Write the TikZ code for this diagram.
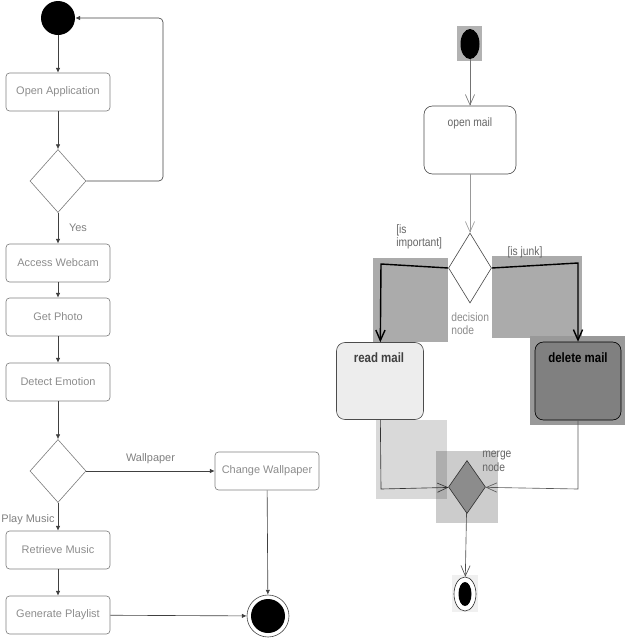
\documentclass[tikz,border=0pt]{standalone}
\usepackage{fontspec}
\setmainfont{Liberation Sans}
\newfontfamily\narrowsans[FakeStretch=0.85]{Liberation Sans}
\usetikzlibrary{arrows.meta,shapes.geometric}
\newcommand{\pxu}{0.025cm}

\begin{document}
\begin{tikzpicture}[x=\pxu,y=-\pxu,line width=.45pt,
  act/.style={draw=black!50,rounded corners=2.5pt,inner sep=0pt,text=black!45,
    font=\fontsize{7.8}{9}\selectfont,minimum width=104*\pxu,minimum height=38*\pxu},
  choix/.style={draw=black!50,diamond,inner sep=0pt,minimum width=56*\pxu,minimum height=63*\pxu},
  fleche/.style={draw=black!75,-{Latex[length=1.2mm,width=1.1mm]}},
  garde/.style={text=black!50,font=\fontsize{7.8}{9}\selectfont,inner sep=0pt},
  etat/.style={draw=black!70,rounded corners=6pt,inner sep=0pt},
  nom/.style={font=\narrowsans\fontsize{8.6}{9.6}\selectfont,text=black!60,inner sep=0pt},
  titre/.style={font=\narrowsans\bfseries\fontsize{9.6}{11}\selectfont,inner sep=0pt},
  pointe/.style={-{Straight Barb[length=2.6mm,width=2.3mm]}},
  branche/.style={pointe,line width=1pt},
]
\useasboundingbox (0,0) rectangle (640,640);

% Diagramme de gauche : l'application.
\node[circle,fill=black,minimum size=34*\pxu,inner sep=0pt] (debut) at (58,18) {};
\node[act] (ouvrir) at (58,92) {Open Application};
\node[choix] (test) at (58,181) {};
\node[act] (webcam) at (58,263) {Access Webcam};
\node[act] (photo) at (58,317) {Get Photo};
\node[act] (emotion) at (58,382) {Detect Emotion};
\node[choix] (genre) at (58,471) {};
\node[act] (fond) at (267,471) {Change Wallpaper};
\node[act] (musique) at (58,550) {Retrieve Music};
\node[act] (liste) at (58,615) {Generate Playlist};
\node[circle,draw=black!70,minimum size=42*\pxu,inner sep=0pt] (fin) at (268,616) {};
\fill (fin.center) circle[radius=17];
\coordinate (boucle) at (163,18);

\draw[fleche] (debut) -- (ouvrir);
\draw[fleche] (ouvrir) -- (test);
\draw[fleche,rounded corners=3pt] (test.east) -| (boucle) -- (debut.east);
\draw[fleche] (test) -- (webcam);
\node[garde] (oui) at (78,228) {Yes};
\draw[fleche] (webcam) -- (photo);
\draw[fleche] (photo) -- (emotion);
\draw[fleche] (emotion) -- (genre);
\draw[fleche] (genre) -- (fond) node[garde,midway,above=7*\pxu] (papier) {Wallpaper};
\draw[fleche] (genre) -- (musique);
\node[garde] (jouer) at (28,520) {Play Music};
\draw[fleche] (musique) -- (liste);
\draw[fleche] (liste) -- (fin);
\draw[fleche] (fond) -- (fin);

% Diagramme de droite : le courrier. D'abord les zones grises.
\fill[black!30] (457,26) rectangle (482,61);
\fill[black!33] (373,258) rectangle (448,342);
\fill[black!33] (492,256) rectangle (582,338);
\fill[black!40] (530,336) rectangle (625,425);
\fill[black,fill opacity=.15] (376,420) rectangle (447,499);
\fill[black,fill opacity=.2] (436,451) rectangle (498,523);
\fill[black!6] (452,575) rectangle (478,612);

\node[ellipse,fill=black,minimum width=19*\pxu,minimum height=30*\pxu,inner sep=0pt] (depart) at (470,44) {};
\node[etat,minimum width=92*\pxu,minimum height=68*\pxu] (courrier) at (470,140) {};
\node[nom] (courriertxt) at (470,123) {open mail};
\node[diamond,draw=black!70,inner sep=0pt,minimum width=43*\pxu,minimum height=70*\pxu] (decision) at (470,268) {};
\node[etat,fill=black!7,minimum width=87*\pxu,minimum height=77*\pxu] (lire) at (380,381) {};
\node[titre,text=black!75] (liretxt) at (379,358) {read mail};
\node[etat,draw=black,fill=black!50,minimum width=86*\pxu,minimum height=78*\pxu] (suppr) at (578,381) {};
\node[titre] (supprtxt) at (578,358) {delete mail};
\node[diamond,draw=black!80,fill=black!45,inner sep=0pt,minimum width=37*\pxu,minimum height=53*\pxu] (fusion) at (467,487) {};
\node[ellipse,draw=black!80,fill=white,minimum width=22*\pxu,minimum height=34*\pxu,inner sep=0pt] (final) at (465,594) {};
\fill (final.center) ellipse[x radius=6.5,y radius=12];

\coordinate (coinhg) at (381,264);
\coordinate (coinhd) at (578,263);
\coordinate (coinbg) at (381,489);
\coordinate (coinbd) at (578,489);

\draw[pointe,draw=black!55] (depart) -- (courrier);
\draw[pointe,draw=black!40] (courrier) -- (decision);
\draw[branche] (decision.west) -- (coinhg) -- (lire);
\draw[branche] (decision.east) -- (coinhd) -- (suppr);
\draw[pointe,draw=black!80] (lire) -- (coinbg) -- (fusion);
\draw[pointe,draw=black!65] (suppr) -- (coinbd) -- (fusion);
\draw[pointe,draw=black!70] (fusion) -- (final);

\node[nom,align=left,anchor=north west] (important) at (396,224) {[is\\important]};
\node[nom] (junk) at (525,252) {[is junk]};
\node[nom,align=left,anchor=north west,text=black!45] (decnom) at (451,312) {decision\\node};
\node[nom,align=left,anchor=north west] (fusnom) at (482,451) {merge\\node};
\end{tikzpicture}
\end{document}
